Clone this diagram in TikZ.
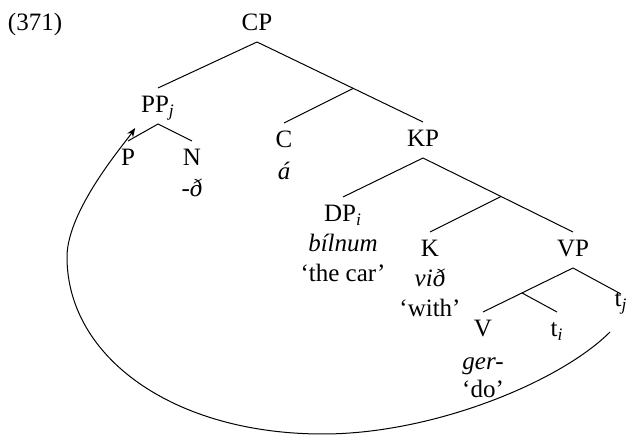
\documentclass[tikz,border=0pt]{standalone}
\usepackage{fontspec}
\setmainfont{Liberation Serif}
\usetikzlibrary{arrows.meta, calc}
\newcommand{\treefont}{\fontsize{12.5}{15}\selectfont}

\begin{document}
\begin{tikzpicture}[
  x=0.5pt, y=-0.5pt,
  font=\treefont,
  cat/.style={anchor=base, inner sep=0pt, outer sep=3pt, text height=9.5pt, text depth=2.5pt},
  form/.style={anchor=base, inner sep=0pt, font=\treefont\itshape},
  gloss/.style={anchor=base, inner sep=0pt},
  branch/.style={line width=0.5pt},
  move/.style={-{Stealth[length=4.5pt, width=3.5pt]}, line width=0.5pt}
]
  \useasboundingbox (0,0) rectangle (632,437);
  \node[gloss] (ex) at (35,31) {(371)};

  % categories
  \node[cat] (CP) at (257,31) {CP};
  \node[cat] (PP) at (158,113) {PP\textsubscript{\textit{j}}};
  \node[cat] (P) at (128,166) {P};
  \node[cat] (N) at (192,166) {N};
  \node[cat] (C) at (284,148) {C};
  \node[cat] (KP) at (423,147) {KP};
  \node[cat] (DP) at (343,222) {DP\textsubscript{\textit{i}}};
  \node[cat] (K) at (430,257) {K};
  \node[cat] (VP) at (573,257) {VP};
  \node[cat] (V) at (483,337) {V};
  \node[cat] (tI) at (557,337) {t\textsubscript{\textit{i}}};
  \node[cat, text height=3.5pt] (tj) at (621,307) {t\textsubscript{\textit{j}}};

  % words and glosses
  \node[form] (Nw) at ([yshift=-15.5pt]N.base) {-ð};
  \node[form] (Cw) at ([yshift=-16pt]C.base) {á};
  \node[form] (DPw) at ([yshift=-15pt]DP.base) {bílnum};
  \node[gloss] (DPg) at ([yshift=-15pt]DPw.base) {`the car'};
  \node[form] (Kw) at ([yshift=-15pt]K.base) {við};
  \node[gloss] (Kg) at ([yshift=-15pt]Kw.base) {`with'};
  \node[form] (Vw) at ([yshift=-16.5pt]V.base) {ger-};
  \node[gloss] (Vg) at ([yshift=-14pt]Vw.base) {`do'};

  % branches
  \draw[branch] (CP.south) -- (PP.north);
  \draw[branch] (CP.south) -- (KP.north);
  \coordinate (cjoin) at ($(CP.south)!0.58!(KP.north)$);
  \draw[branch] (cjoin) -- (C.north);
  \draw[branch] (P.north) -- (PP.south) -- (N.north);
  \draw[branch] (KP.south) -- (DP.north);
  \draw[branch] (KP.south) -- (VP.north);
  \coordinate (kjoin) at ($(KP.south)!0.52!(VP.north)$);
  \draw[branch] (kjoin) -- (K.north);
  \draw[branch] (VP.south) -- (V.north);
  \draw[branch] (VP.south) -- (tj.north);
  \coordinate (vjoin) at ($(VP.south)!0.567!(V.north)$);
  \draw[branch] (vjoin) -- (tI.north);

  % movement
  \draw[move] ([xshift=-5.5pt,yshift=-7pt]tj.south)
    .. controls (560,382) and (433,434) .. (323,434)
    .. controls (173,434) and (67,357) .. (67,257)
    .. controls (67,210) and (125,143) .. ([yshift=-2pt]PP.south west);
\end{tikzpicture}
\end{document}
